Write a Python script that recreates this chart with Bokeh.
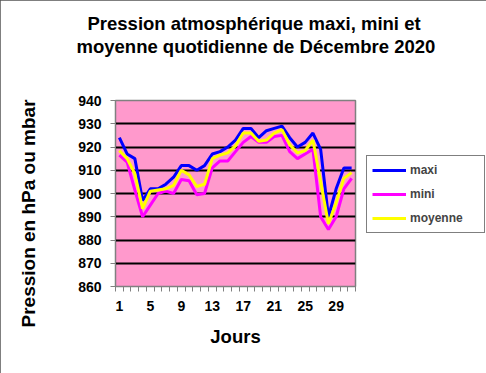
import math
from bokeh.plotting import figure
from bokeh.models import FixedTicker, Legend, Range1d, Title
from bokeh.embed import file_html
from bokeh.resources import INLINE

days = list(range(1, 32))
maxi = [924, 917, 915, 897, 902, 902, 904, 907, 912, 912, 910, 912, 917, 918, 920, 923,
        928, 928, 924, 927, 928, 929, 924, 920, 922, 926, 919, 890, 902, 911, 911]
mini = [916.5, 913.5, 901.5, 890, 895, 900, 901, 900, 906, 905.5, 899.5, 900, 911, 914, 914, 918,
        922, 924.5, 922, 922, 924.5, 925, 918, 915, 917, 919, 890, 884.5, 890, 902, 906.5]
moyenne = [918.5, 915, 908.5, 893.5, 901, 901.5, 902, 903.5, 910, 908, 903, 904, 915, 916.5, 917.5, 920.5,
           926, 926, 922.5, 923, 926, 927.5, 921, 917.5, 918.5, 923, 905, 887, 896, 906.5, 909]
x_labels = [1, 5, 9, 13, 17, 21, 25, 29]
y_ticks = [860, 870, 880, 890, 900, 910, 920, 930, 940]
title_lines = ["Pression atmosphérique maxi, mini et", "moyenne quotidienne de Décembre 2020"]
y_title = "Pression en hPa ou mbar"
x_title = "Jours"

FONT = "Liberation Sans"
GRAY = "#808080"

p = figure(frame_width=240, frame_height=186, output_backend="svg", toolbar_location=None,
           x_range=Range1d(0.5, 31.5), y_range=Range1d(860, 940),
           min_border_left=115, min_border_right=131, min_border_top=100, min_border_bottom=87)
p.styles = {"outline": "2px solid #555555", "outline-offset": "-2px"}
p.background_fill_color = "#FF99CC"
p.border_fill_color = "white"
p.outline_line_color = GRAY
p.outline_line_width = 1.5

# x axis (category style)
p.xaxis.ticker = FixedTicker(ticks=x_labels, minor_ticks=[d - 0.5 for d in days] + [31.5])
p.xaxis.major_tick_out = 0
p.xaxis.major_tick_in = 0
p.xaxis.minor_tick_out = 5
p.xaxis.minor_tick_in = 0
p.xaxis.minor_tick_line_color = GRAY
p.xaxis.axis_line_color = GRAY
p.xaxis.major_label_standoff = 9
p.xaxis.major_label_text_font = FONT
p.xaxis.major_label_text_font_size = "14px"
p.xaxis.major_label_text_font_style = "bold"
p.xaxis.major_label_text_color = "black"
p.xaxis.axis_label = x_title
p.xaxis.axis_label_standoff = 12
p.xaxis.axis_label_text_font = FONT
p.xaxis.axis_label_text_font_size = "18.5px"
p.xaxis.axis_label_text_font_style = "bold"
p.xaxis.axis_label_text_color = "black"

# y axis
p.yaxis.ticker = FixedTicker(ticks=y_ticks, minor_ticks=[])
p.yaxis.major_tick_out = 5
p.yaxis.major_tick_in = 0
p.yaxis.major_tick_line_color = GRAY
p.yaxis.axis_line_color = GRAY
p.yaxis.major_label_standoff = 9
p.yaxis.major_label_text_font = FONT
p.yaxis.major_label_text_font_size = "14px"
p.yaxis.major_label_text_font_style = "bold"
p.yaxis.major_label_text_color = "black"

p.xgrid.visible = False
p.ygrid.ticker = FixedTicker(ticks=y_ticks[1:-1])
p.ygrid.grid_line_color = "black"
p.ygrid.grid_line_width = 2

r1 = p.line(days, maxi, line_color="#0000FF", line_width=3)
r2 = p.line(days, mini, line_color="#FF00FF", line_width=3)
r3 = p.line(days, moyenne, line_color="#FFFF00", line_width=3)

legend = Legend(items=[("maxi", [r1]), ("mini", [r2]), ("moyenne", [r3])],
                location=(11, 53))
legend.label_text_font = FONT
legend.label_text_font_size = "12px"
legend.label_text_font_style = "bold"
legend.glyph_width = 34
legend.glyph_height = 18
legend.label_height = 18
legend.label_width = 69
legend.label_standoff = 4
legend.spacing = 6
legend.padding = 5
legend.margin = 0
legend.border_line_color = "black"
legend.border_line_width = 1
legend.background_fill_color = "white"
legend.background_fill_alpha = 1
p.add_layout(legend, "right")

tstyle = dict(text_font=FONT, text_font_style="bold", text_color="black", align="left",
              vertical_align="top")
# spacer between the plot area and the two title lines
p.add_layout(Title(text=" ", text_font_size="18.5px", standoff=19, **tstyle), "above")
p.add_layout(Title(text=title_lines[1], text_font_size="18.5px", standoff=0, offset=-39, **tstyle), "above")
p.add_layout(Title(text=title_lines[0], text_font_size="18.5px", standoff=0, offset=-28, **tstyle), "above")
# spacer between the y axis and its title
p.add_layout(Title(text=" ", text_font_size="19px", standoff=12, **tstyle), "left")
p.add_layout(Title(text=y_title, text_font_size="19px", standoff=0, offset=-41, **tstyle), "left")

open("out.html", "w").write(file_html(p, INLINE))
